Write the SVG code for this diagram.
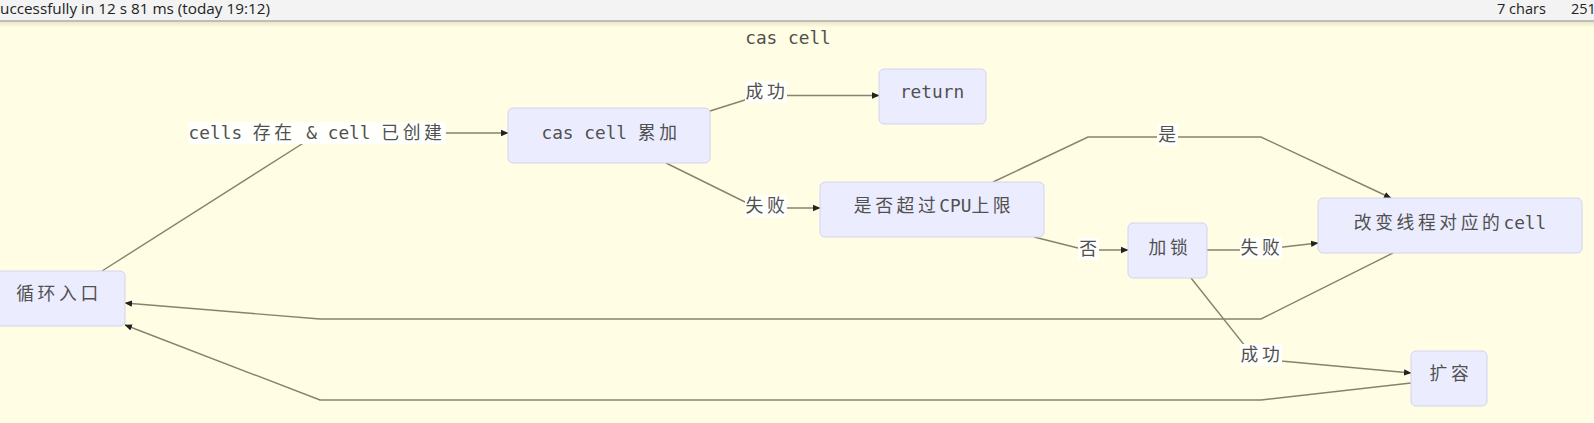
<svg xmlns="http://www.w3.org/2000/svg" width="1594" height="423" viewBox="0 0 1594 423">
<style>
.bar{font-family:"Open Sans","Noto Sans",sans-serif;font-size:14.5px;fill:#222}
.t{font-family:"DejaVu Sans Mono","Noto Sans CJK SC",monospace;font-size:17.8px;fill:#505050;text-anchor:middle}
.c{letter-spacing:3.6px}
.node rect{fill:#ececff;stroke:#d2d2f0;stroke-width:1}
.edges path{fill:none;stroke:#85836f;stroke-width:1.4}
.lbl{fill:#fffffb}
</style>
<defs>
<marker id="ah" markerWidth="8" markerHeight="8" refX="7" refY="4" orient="auto" markerUnits="userSpaceOnUse">
<path d="M0,0.8 L7.5,4 L0,7.2 Z" fill="#222"/>
</marker>
<linearGradient id="sh" x1="0" y1="0" x2="0" y2="1">
<stop offset="0" stop-color="#e9e4c4"/>
<stop offset="1" stop-color="#fffde3"/>
</linearGradient>
</defs>
<rect x="0" y="0" width="1594" height="423" fill="#fffde3"/>
<rect x="0" y="0" width="1594" height="21" fill="#f3f3f3"/>
<rect x="0" y="21.5" width="1594" height="6" fill="url(#sh)"/>
<line x1="0" y1="21" x2="1594" y2="21" stroke="#8a8a8a" stroke-width="1.2"/>
<text class="bar" x="0" y="14" textLength="270" lengthAdjust="spacingAndGlyphs">uccessfully in 12 s 81 ms (today 19:12)</text>
<text class="bar" x="1497" y="14">7 chars</text>
<text class="bar" x="1571" y="14">251</text>

<text class="t" x="788" y="44">cas cell</text>

<g class="edges" id="edges">
<path d="M102,271 L305,142 L320,133 L508,133" marker-end="url(#ah)"/>
<path d="M710,111 L748,99 L787,95.5 L879,95.5" marker-end="url(#ah)"/>
<path d="M666,163 L747,203 L787,208 L820,208" marker-end="url(#ah)"/>
<path d="M993,182 L1088,137 L1261,137 L1391,198" marker-end="url(#ah)"/>
<path d="M1034,237 L1078,248 L1100,250 L1128,250" marker-end="url(#ah)"/>
<path d="M1207,250 L1240,250 L1283,247 L1318,243" marker-end="url(#ah)"/>
<path d="M1191,278 L1245,346 L1281,361 L1411,373" marker-end="url(#ah)"/>
<path d="M1393,253 L1261,319 L320,319 L125,303" marker-end="url(#ah)"/>
<path d="M1411,383 L1261,400 L320,400 L125,325" marker-end="url(#ah)"/>
</g>

<g id="edge-labels">
<rect class="lbl" x="188" y="122" width="258" height="22"/>
<text class="t" x="317" y="139">cells <tspan class="c">存在</tspan> &amp; cell <tspan class="c">已创建</tspan></text>
<rect class="lbl" x="745" y="81" width="42" height="22"/>
<text class="t" x="767" y="98"><tspan class="c">成功</tspan></text>
<rect class="lbl" x="745" y="195" width="42" height="22"/>
<text class="t" x="767" y="212"><tspan class="c">失败</tspan></text>
<rect class="lbl" x="1157" y="124" width="21" height="22"/>
<text class="t" x="1169" y="141"><tspan class="c">是</tspan></text>
<rect class="lbl" x="1078" y="238" width="21" height="22"/>
<text class="t" x="1090" y="255"><tspan class="c">否</tspan></text>
<rect class="lbl" x="1240" y="237" width="42" height="22"/>
<text class="t" x="1262" y="254"><tspan class="c">失败</tspan></text>
<rect class="lbl" x="1240" y="344" width="42" height="22"/>
<text class="t" x="1262" y="361"><tspan class="c">成功</tspan></text>
</g>

<g class="node" id="n-loop">
<rect x="-10" y="271" width="135" height="55" rx="5"/>
<text class="t" x="59" y="300"><tspan class="c">循环入口</tspan></text>
</g>
<g class="node" id="n-cas">
<rect x="508" y="108" width="202" height="55" rx="5"/>
<text class="t" x="611" y="139">cas cell <tspan class="c">累加</tspan></text>
</g>
<g class="node" id="n-return">
<rect x="879" y="69" width="107" height="55" rx="5"/>
<text class="t" x="932" y="98">return</text>
</g>
<g class="node" id="n-cpu">
<rect x="820" y="182" width="224" height="55" rx="5"/>
<text class="t" x="934" y="212"><tspan class="c">是否超过</tspan>CPU<tspan class="c">上限</tspan></text>
</g>
<g class="node" id="n-lock">
<rect x="1128" y="223" width="79" height="55" rx="5"/>
<text class="t" x="1170" y="254"><tspan class="c">加锁</tspan></text>
</g>
<g class="node" id="n-change">
<rect x="1318" y="198" width="264" height="55" rx="5"/>
<text class="t" x="1450" y="229"><tspan class="c">改变线程对应的</tspan>cell</text>
</g>
<g class="node" id="n-expand">
<rect x="1411" y="351" width="76" height="55" rx="5"/>
<text class="t" x="1451" y="380"><tspan class="c">扩容</tspan></text>
</g>
</svg>
